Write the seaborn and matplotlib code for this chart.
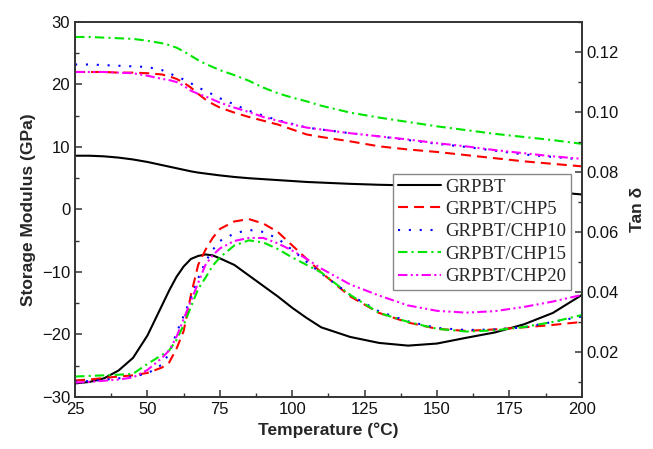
import numpy as np
import pandas as pd
import matplotlib
matplotlib.use("Agg")
import matplotlib.pyplot as plt
from matplotlib.ticker import MultipleLocator, FormatStrFormatter
import seaborn as sns

# Temperature grid (°C) shared by all curves
temperature = [25, 30, 35, 40, 45, 50, 55, 57.5, 60, 62.5, 65, 67.5, 70, 72.5, 75,
               80, 85, 90, 95, 100, 105, 110, 120, 130, 140, 150, 160, 170, 180, 190, 200]

series_names = ["GRPBT", "GRPBT/CHP5", "GRPBT/CHP10", "GRPBT/CHP15", "GRPBT/CHP20"]

# Storage modulus (GPa)
modulus_grpbt = [8.6, 8.6, 8.5, 8.3, 8.0, 7.6, 7.1, 6.85, 6.6, 6.35, 6.1, 5.9, 5.75, 5.6, 5.45,
                 5.2, 5.0, 4.85, 4.7, 4.55, 4.4, 4.3, 4.1, 3.95, 3.85, 3.75, 3.6, 3.35, 3.1, 2.8, 2.4]
modulus_chp5 = [22.0, 22.0, 22.0, 21.9, 21.9, 21.8, 21.6, 21.3, 20.9, 20.3, 19.5, 18.5, 17.6, 16.9, 16.3,
                15.5, 14.8, 14.2, 13.6, 12.8, 12.0, 11.6, 10.9, 10.1, 9.6, 9.2, 8.7, 8.2, 7.7, 7.3, 6.9]
modulus_chp10 = [23.2, 23.2, 23.1, 23.0, 22.9, 22.8, 22.3, 21.8, 21.3, 20.8, 20.2, 19.5, 19.0, 18.4, 17.8,
                 16.8, 15.8, 15.0, 14.3, 13.7, 13.1, 12.8, 12.2, 11.7, 11.1, 10.5, 10.0, 9.4, 8.8, 8.4, 8.0]
modulus_chp15 = [27.6, 27.6, 27.5, 27.4, 27.3, 27.0, 26.6, 26.3, 25.9, 25.3, 24.6, 23.9, 23.3, 22.8, 22.3,
                 21.5, 20.6, 19.5, 18.6, 17.9, 17.3, 16.6, 15.5, 14.7, 14.0, 13.3, 12.7, 12.1, 11.6, 11.1, 10.5]
modulus_chp20 = [22.0, 22.0, 22.0, 21.9, 21.8, 21.4, 20.9, 20.7, 20.4, 19.8, 19.0, 18.5, 18.1, 17.6, 17.1,
                 16.3, 15.6, 14.8, 14.2, 13.6, 13.1, 12.8, 12.2, 11.7, 11.2, 10.6, 10.1, 9.5, 9.0, 8.5, 8.1]

# Loss factor tan delta
tan_grpbt = [0.0095, 0.0100, 0.0112, 0.0138, 0.0180, 0.0255, 0.0355, 0.0405, 0.0450, 0.0485, 0.0510,
             0.0520, 0.0525, 0.0522, 0.0512, 0.0490, 0.0455, 0.0420, 0.0385, 0.0347, 0.0313, 0.0282,
             0.0250, 0.0230, 0.0221, 0.0228, 0.0247, 0.0265, 0.0292, 0.0330, 0.0390]
tan_chp5 = [0.0105, 0.0108, 0.0113, 0.0118, 0.0122, 0.0130, 0.0148, 0.0165, 0.0210, 0.0270, 0.0390,
            0.0490, 0.0540, 0.0580, 0.0610, 0.0635, 0.0643, 0.0628, 0.0600, 0.0555, 0.0510, 0.0465,
            0.0385, 0.0330, 0.0298, 0.0277, 0.0270, 0.0275, 0.0282, 0.0290, 0.0300]
tan_chp10 = [0.0101, 0.0103, 0.0107, 0.0112, 0.0118, 0.0128, 0.0158, 0.0195, 0.0263, 0.0320, 0.0380,
             0.0445, 0.0500, 0.0540, 0.0570, 0.0595, 0.0607, 0.0600, 0.0578, 0.0540, 0.0500, 0.0462,
             0.0390, 0.0335, 0.0302, 0.0280, 0.0273, 0.0275, 0.0282, 0.0300, 0.0318]
tan_chp15 = [0.0118, 0.0120, 0.0122, 0.0124, 0.0127, 0.0160, 0.0190, 0.0205, 0.0240, 0.0290, 0.0350,
             0.0410, 0.0447, 0.0487, 0.0515, 0.0555, 0.0572, 0.0565, 0.0543, 0.0515, 0.0490, 0.0465,
             0.0390, 0.0330, 0.0300, 0.0277, 0.0268, 0.0272, 0.0283, 0.0300, 0.0323]
tan_chp20 = [0.0098, 0.0100, 0.0104, 0.0108, 0.0115, 0.0140, 0.0180, 0.0205, 0.0250, 0.0310, 0.0370,
             0.0430, 0.0490, 0.0522, 0.0545, 0.0570, 0.0580, 0.0580, 0.0562, 0.0538, 0.0510, 0.0478,
             0.0425, 0.0388, 0.0355, 0.0337, 0.0331, 0.0336, 0.0350, 0.0368, 0.0390]

modulus = [modulus_grpbt, modulus_chp5, modulus_chp10, modulus_chp15, modulus_chp20]
tan_delta = [tan_grpbt, tan_chp5, tan_chp10, tan_chp15, tan_chp20]

colors = ["black", "#ff0000", "#0000ff", "#00e600", "#ff00ff"]
styles = ["-", (0, (4.8, 2.9)), (0, (1, 4.2)), (0, (4.5, 2, 1, 2)), (0, (4.5, 1.6, 1, 1.6, 1, 1.6))]

sns.set_theme(style="ticks")
plt.rcParams["font.family"] = ["Liberation Sans", "DejaVu Sans"]

fig = plt.figure(figsize=(6.53, 4.49), dpi=100)
ax = fig.add_axes([0.115, 0.116, 0.776, 0.835])
ax2 = ax.twinx()

for name, mod, td, col, ls in zip(series_names, modulus, tan_delta, colors, styles):
    df = pd.DataFrame({"T": temperature, "E": mod, "tan": td})
    sns.lineplot(data=df, x="T", y="E", ax=ax, color=col, linestyle=ls,
                 linewidth=1.5, label=name, legend=False, sort=False)
    sns.lineplot(data=df, x="T", y="tan", ax=ax2, color=col, linestyle=ls,
                 linewidth=1.5, legend=False, sort=False)

ax.set_xlim(25, 200)
ax.set_ylim(-30, 30)
ax2.set_ylim(0.005, 0.13)

ax.xaxis.set_major_locator(MultipleLocator(25))
ax.xaxis.set_minor_locator(MultipleLocator(12.5))
ax.yaxis.set_major_locator(MultipleLocator(10))
ax.yaxis.set_minor_locator(MultipleLocator(5))
ax2.yaxis.set_major_locator(MultipleLocator(0.02))
ax2.yaxis.set_minor_locator(MultipleLocator(0.01))
ax2.yaxis.set_major_formatter(FormatStrFormatter("%.2f"))
ax2.set_yticks([0.02, 0.04, 0.06, 0.08, 0.10, 0.12])

edge = "#333333"
for a in (ax, ax2):
    for sp in a.spines.values():
        sp.set_color(edge)
        sp.set_linewidth(1.2)
ax.tick_params(axis="both", which="both", direction="in", top=False, right=False,
               color=edge, labelsize=12, labelcolor="#111111")
ax.tick_params(which="major", length=5, width=1.1)
ax.tick_params(which="minor", length=3, width=1.0)
ax2.tick_params(axis="y", which="both", direction="in", left=False, right=True,
                color=edge, labelsize=12, labelcolor="#111111")
ax2.tick_params(which="major", length=5, width=1.1)
ax2.tick_params(which="minor", length=3, width=1.0)

ax.set_xlabel("Temperature (°C)", fontsize=12.5, fontweight="bold", labelpad=4)
ax.set_ylabel("Storage Modulus (GPa)", fontsize=12.5, fontweight="bold", labelpad=4)
ax2.set_ylabel("Tan δ", fontsize=12.5, fontweight="bold", labelpad=8)

handles, labels = ax.get_legend_handles_labels()
leg = ax2.legend(handles, labels, loc="upper left", bbox_to_anchor=(0.627, 0.595),
                 frameon=True, fancybox=False, edgecolor="#888888", framealpha=1,
                 prop={"family": ["Liberation Serif", "DejaVu Serif"], "size": 13.5},
                 handlelength=2.3, handletextpad=0.25, borderpad=0.25,
                 labelspacing=0.28, borderaxespad=0)
leg.get_frame().set_linewidth(1.0)

fig.savefig("out.png", dpi=100, facecolor="white")
